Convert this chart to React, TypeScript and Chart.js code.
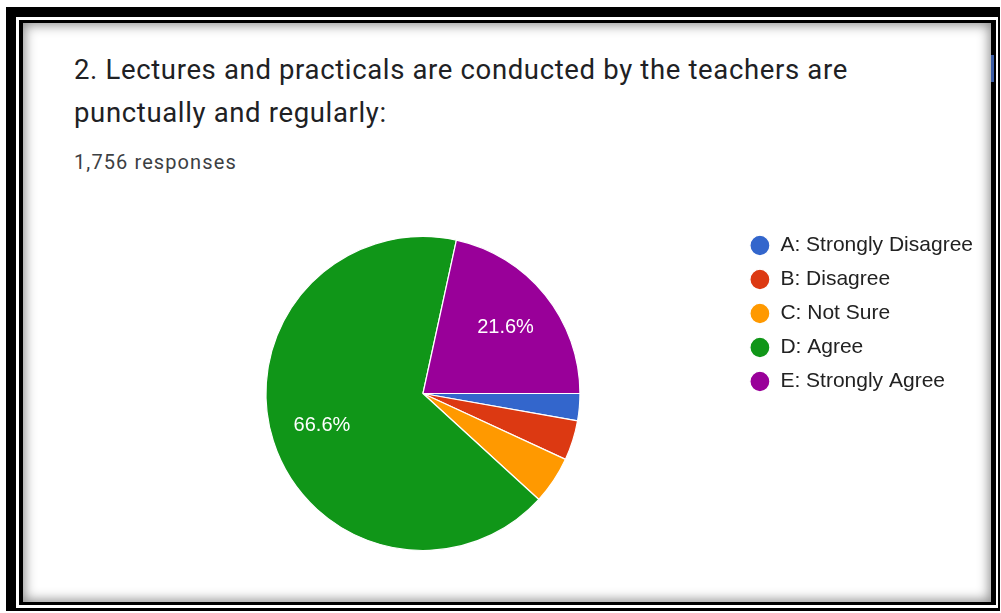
import React, { useEffect, useRef } from "react";
import { Chart, registerables } from "chart.js";

Chart.register(...registerables);

const categories: string[] = [
  "A: Strongly Disagree",
  "B: Disagree",
  "C: Not Sure",
  "D: Agree",
  "E: Strongly Agree",
];
const responses: number[] = [49, 72, 86, 1170, 379];
const sliceColors: string[] = ["#3366cc", "#dc3912", "#ff9900", "#109618", "#990099"];
const titleLines: string[] = [
  "2. Lectures and practicals are conducted by the teachers are",
  "punctually and regularly:",
];
const responseCountText = "1,756 responses";

const pctLabelPlugin = {
  id: "pctLabels",
  afterDatasetsDraw(chart: any) {
    const ctx = chart.ctx;
    const ds = chart.data.datasets[0];
    const vals = ds.data as number[];
    const total = vals.reduce((a, b) => a + b, 0);
    const meta = chart.getDatasetMeta(0);
    ctx.save();
    ctx.fillStyle = "#ffffff";
    ctx.font = "20px 'Liberation Sans', Arial, sans-serif";
    ctx.textAlign = "center";
    ctx.textBaseline = "middle";
    meta.data.forEach((arc: any, i: number) => {
      const pct = (vals[i] / total) * 100;
      if (pct < 10) return;
      const p = arc.getProps(["x", "y", "startAngle", "endAngle", "outerRadius"], true);
      const mid = (p.startAngle + p.endAngle) / 2;
      const r = p.outerRadius * 0.675;
      ctx.fillText(pct.toFixed(1) + "%", p.x + Math.cos(mid) * r, p.y + Math.sin(mid) * r);
    });
    ctx.restore();
  },
};

function PieChart() {
  const ref = useRef<HTMLCanvasElement | null>(null);
  useEffect(() => {
    if (!ref.current) return;
    const chart = new Chart(ref.current, {
      type: "pie",
      data: {
        labels: categories,
        datasets: [
          {
            data: responses,
            backgroundColor: sliceColors,
            borderColor: "#ffffff",
            borderWidth: 1.2,
            radius: 157,
          } as any,
        ],
      },
      options: {
        animation: false,
        responsive: false,
        events: [],
        rotation: 90,
        layout: { padding: 0 },
        plugins: {
          tooltip: { enabled: false },
          title: { display: false },
          legend: {
            display: true,
            position: "right",
            align: "start",
            labels: {
              usePointStyle: true,
              pointStyle: "circle",
              pointStyleWidth: 20,
              boxHeight: 14.5,
              padding: 13,
              color: "#222222",
              font: { family: "'Liberation Sans', Arial, sans-serif", size: 21 },
            },
          },
        },
      } as any,
      plugins: [pctLabelPlugin],
    });
    return () => chart.destroy();
  }, []);
  return (
    <canvas
      ref={ref}
      width={874}
      height={343}
      style={{ position: "absolute", left: 109, top: 222, width: 874, height: 343 }}
    />
  );
}

export default function App() {
  useEffect(() => {
    document.body.style.margin = "0";
  }, []);
  return (
    <div
      style={{
        position: "relative",
        width: 1001,
        height: 613,
        background: "#ffffff",
        overflow: "hidden",
      }}
    >
      <div
        style={{
          position: "absolute",
          left: 6,
          top: 7,
          width: 994,
          height: 604,
          boxSizing: "border-box",
          borderStyle: "solid",
          borderColor: "#000",
          borderWidth: "10px 2px 3px 10px",
        }}
      />
      <div
        style={{
          position: "absolute",
          left: 19,
          top: 20,
          width: 977,
          height: 585,
          boxSizing: "border-box",
          borderStyle: "solid",
          borderColor: "#000",
          borderWidth: "3px 5px 3px 4px",
          background: "#fff",
          boxShadow: "inset 0 0 12px 2px rgba(0,0,0,0.45)",
        }}
      />
      <div
        style={{
          position: "absolute",
          left: 991,
          top: 55,
          width: 3,
          height: 27,
          background: "#3b5ca5",
        }}
      />
      <div
        style={{
          position: "absolute",
          left: 74,
          top: 49,
          fontFamily: "Roboto, sans-serif",
          fontSize: 27.5,
          letterSpacing: "0.65px",
          lineHeight: "42.5px",
          color: "#202124",
          whiteSpace: "nowrap",
        }}
      >
        {titleLines.map((t, i) => (
          <div key={i}>{t}</div>
        ))}
      </div>
      <div
        style={{
          position: "absolute",
          left: 74,
          top: 150.5,
          fontFamily: "Roboto, sans-serif",
          fontSize: 20,
          letterSpacing: "1.1px",
          lineHeight: "22px",
          color: "#3c4043",
          whiteSpace: "nowrap",
        }}
      >
        {responseCountText}
      </div>
      <PieChart />
    </div>
  );
}
